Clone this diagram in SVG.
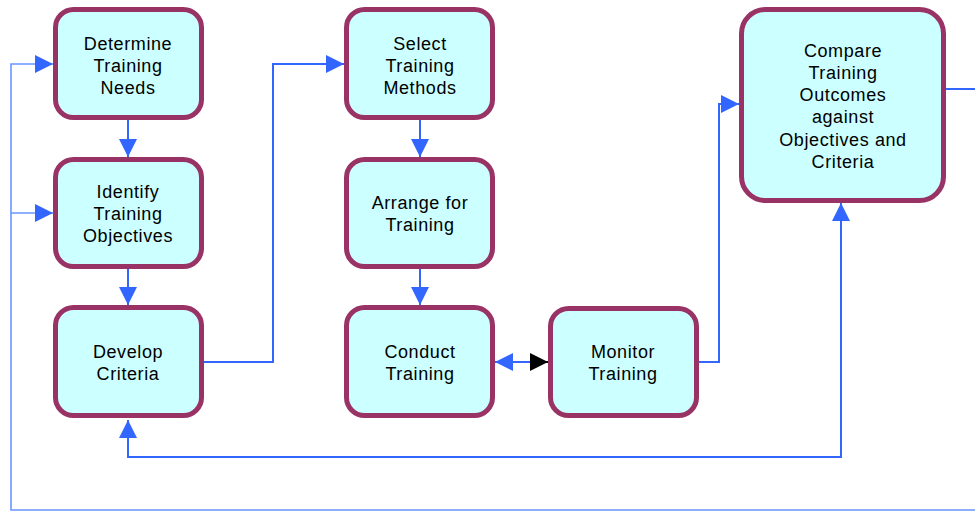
<svg xmlns="http://www.w3.org/2000/svg" width="975" height="511" viewBox="0 0 975 511">
<style>
.box{fill:#CCFFFF;stroke:#993366;stroke-width:5}
.t{font-family:"Liberation Sans",Arial,sans-serif;font-size:18px;letter-spacing:0.6px;fill:#000;text-anchor:middle}
.c{fill:none;stroke:#3366FF;stroke-width:2}
.lo{fill:none;stroke:#6A94FF;stroke-width:1.6}
</style>
<defs>
<marker id="a" markerWidth="18" markerHeight="18" refX="18" refY="9" orient="auto-start-reverse" markerUnits="userSpaceOnUse"><path d="M0,0 L18,9 L0,18 z" fill="#3366FF"/></marker>
<marker id="b" markerWidth="18" markerHeight="18" refX="18" refY="9" orient="auto" markerUnits="userSpaceOnUse"><path d="M0,0 L18,9 L0,18 z" fill="#000"/></marker>
</defs>
<rect width="975" height="511" fill="#fff"/>
<g id="connectors">
<path class="c" d="M128,120 V157" marker-end="url(#a)"/>
<path class="c" d="M128,269 V305" marker-end="url(#a)"/>
<path class="c" d="M420,120 V157" marker-end="url(#a)"/>
<path class="c" d="M420,269 V305" marker-end="url(#a)"/>
<path class="c" d="M204,362 H273 V64 H344" marker-end="url(#a)"/>
<path class="c" d="M495,362 H548" marker-start="url(#a)"/>
<path d="M530,362 H548" stroke="#000" stroke-width="2" marker-end="url(#b)"/>
<path class="c" d="M699,362 H719 V104 H739" marker-end="url(#a)"/>
<path class="c" d="M841,203 V457 H128 V420" marker-start="url(#a)" marker-end="url(#a)"/>
<path class="c" d="M946,89 H977"/>
<path class="lo" d="M977,510 H11 V64 H53" marker-end="url(#a)"/>
<path class="lo" d="M11,213 H53" marker-end="url(#a)"/>
</g>
<g id="n1"><rect class="box" x="55.5" y="9.5" width="146" height="108" rx="18"/>
<text class="t" x="128" y="50">Determine</text><text class="t" x="128" y="72">Training</text><text class="t" x="128" y="94">Needs</text></g>
<g id="n2"><rect class="box" x="55.5" y="159.5" width="146" height="107" rx="18"/>
<text class="t" x="128" y="198">Identify</text><text class="t" x="128" y="220">Training</text><text class="t" x="128" y="242">Objectives</text></g>
<g id="n3"><rect class="box" x="55.5" y="307.5" width="146" height="108" rx="18"/>
<text class="t" x="128" y="358">Develop</text><text class="t" x="128" y="380">Criteria</text></g>
<g id="n4"><rect class="box" x="346.5" y="9.5" width="146" height="108" rx="18"/>
<text class="t" x="420" y="50">Select</text><text class="t" x="420" y="72">Training</text><text class="t" x="420" y="94">Methods</text></g>
<g id="n5"><rect class="box" x="346.5" y="159.5" width="146" height="107" rx="18"/>
<text class="t" x="420" y="209">Arrange for</text><text class="t" x="420" y="231">Training</text></g>
<g id="n6"><rect class="box" x="346.5" y="307.5" width="146" height="108" rx="18"/>
<text class="t" x="420" y="358">Conduct</text><text class="t" x="420" y="380">Training</text></g>
<g id="n7"><rect class="box" x="550.5" y="308.5" width="146" height="107" rx="18"/>
<text class="t" x="623" y="358">Monitor</text><text class="t" x="623" y="380">Training</text></g>
<g id="n8"><rect class="box" x="741.5" y="9.5" width="202" height="191" rx="24"/>
<text class="t" x="843" y="57">Compare</text><text class="t" x="843" y="79">Training</text><text class="t" x="843" y="101">Outcomes</text><text class="t" x="843" y="123">against</text><text class="t" x="843" y="146">Objectives and</text><text class="t" x="843" y="168">Criteria</text></g>
</svg>
